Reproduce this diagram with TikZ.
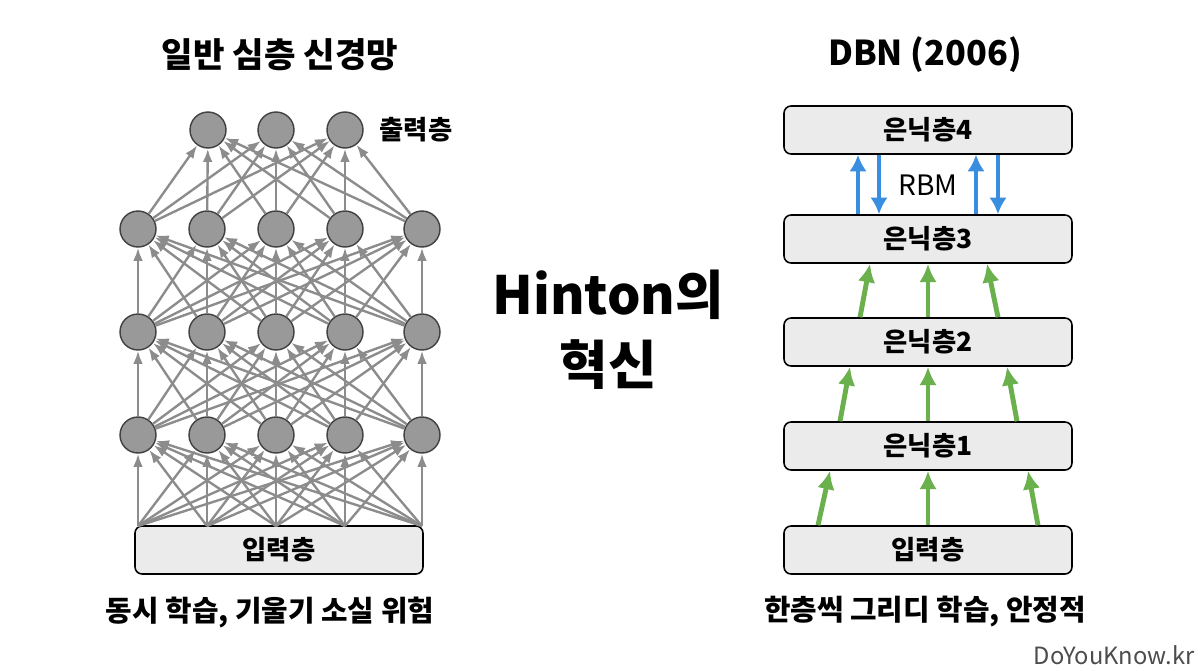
\documentclass[tikz,border=0pt]{standalone}
\usepackage{fontspec}
\setmainfont{Noto Sans CJK KR}
\usetikzlibrary{arrows.meta,calc}
\definecolor{rbmblue}{HTML}{3A8EE0}
\definecolor{greedygreen}{HTML}{6AB04C}
\begin{document}
\begin{tikzpicture}
	[x=0.02cm,y=-0.02cm,
	neuron/.style={circle,draw=black!75,line width=0.8pt,fill=black!40,minimum size=0.72cm,inner sep=0pt},
	layer/.style={rectangle,rounded corners=4pt,draw,line width=0.9pt,fill=black!8,minimum width=5.76cm,minimum height=0.96cm,font=\fontsize{15}{18}\selectfont\bfseries},
	link/.style={->,draw=black!45,line width=1.35pt},
	greedy/.style={-{Latex[length=10.5pt,width=10pt]},draw=greedygreen,line width=2.8pt},
	rbm/.style={-{Latex[length=9.5pt,width=10pt]},draw=rbmblue,line width=2.8pt},
	>={Latex[length=7.5pt,width=5.5pt]}]
	\useasboundingbox[fill=white] (0,0) rectangle (1200,670);
	% left: ordinary deep network
	\node[font=\fontsize{19.5}{24}\selectfont\bfseries] (titleleft) at (280,55) {일반 심층 신경망};
	\foreach \x [count=\i] in {208,276,345}
		\node[neuron] (out\i) at (\x,130) {};
	\node[font=\fontsize{15}{18}\selectfont\bfseries] (outlabel) at (416,130) {출력층};
	\foreach \y/\row in {229/a,332/b,435/c}
		\foreach \x [count=\i] in {138,207,276,345,422}
			\node[neuron] (h\row\i) at (\x,\y) {};
	\node[layer] (input) at (279,550) {입력층};
	\foreach \x [count=\i] in {138,207,276,345,422}
		\coordinate (src\i) at (\x,526);
	\foreach \i in {1,...,5}
		\foreach \j in {1,...,3}
			\draw[link] (ha\i) -- (out\j);
	\foreach \i in {1,...,5}
		\foreach \j in {1,...,5}{
			\draw[link] (hb\i) -- (ha\j);
			\draw[link] (hc\i) -- (hb\j);
			\draw[link] (src\i) -- (hc\j);
		}
	\node[font=\fontsize{16.4}{20}\selectfont\bfseries] (noteleft) at (270,612) {동시 학습, 기울기 소실 위험};
	% middle
	\node[font=\fontsize{30}{40}\selectfont\bfseries,align=center] (hinton) at (608,330) {Hinton의\\혁신};
	% right: DBN stack
	\node[font=\fontsize{19.5}{24}\selectfont\bfseries] (titleright) at (925,55) {DBN (2006)};
	\node[layer] (vis) at (928,550) {입력층};
	\node[layer] (hid1) at (928,446) {은닉층1};
	\node[layer] (hid2) at (928,342) {은닉층2};
	\node[layer] (hid3) at (928,239) {은닉층3};
	\node[layer] (hid4) at (928,130) {은닉층4};
	\draw[greedy] ($(vis.north)+(-110,0)$) -- ($(hid1.south)+(-98,0)$);
	\draw[greedy] (vis.north) -- (hid1.south);
	\draw[greedy] ($(vis.north)+(110,0)$) -- ($(hid1.south)+(100,0)$);
	\draw[greedy] ($(hid1.north)+(-88,0)$) -- ($(hid2.south)+(-78,0)$);
	\draw[greedy] (hid1.north) -- (hid2.south);
	\draw[greedy] ($(hid1.north)+(89,0)$) -- ($(hid2.south)+(79,0)$);
	\draw[greedy] ($(hid2.north)+(-68,0)$) -- ($(hid3.south)+(-58,0)$);
	\draw[greedy] (hid2.north) -- (hid3.south);
	\draw[greedy] ($(hid2.north)+(70,0)$) -- ($(hid3.south)+(59,0)$);
	\draw[rbm] ($(hid3.north)+(-70,0)$) -- ($(hid4.south)+(-70,0)$);
	\draw[rbm] ($(hid4.south)+(-49,0)$) -- ($(hid3.north)+(-49,0)$);
	\draw[rbm] ($(hid3.north)+(48,0)$) -- ($(hid4.south)+(48,0)$);
	\draw[rbm] ($(hid4.south)+(70,0)$) -- ($(hid3.north)+(70,0)$);
	\node[font=\fontsize{16}{19}\selectfont] (rbmlabel) at (928,185) {RBM};
	\node[font=\fontsize{16.4}{20}\selectfont\bfseries] (noteright) at (925,612) {한층씩 그리디 학습, 안정적};
	\node[font=\fontsize{13.5}{16}\selectfont,text=black!70] (site) at (1114,655) {DoYouKnow.kr};
\end{tikzpicture}
\end{document}
